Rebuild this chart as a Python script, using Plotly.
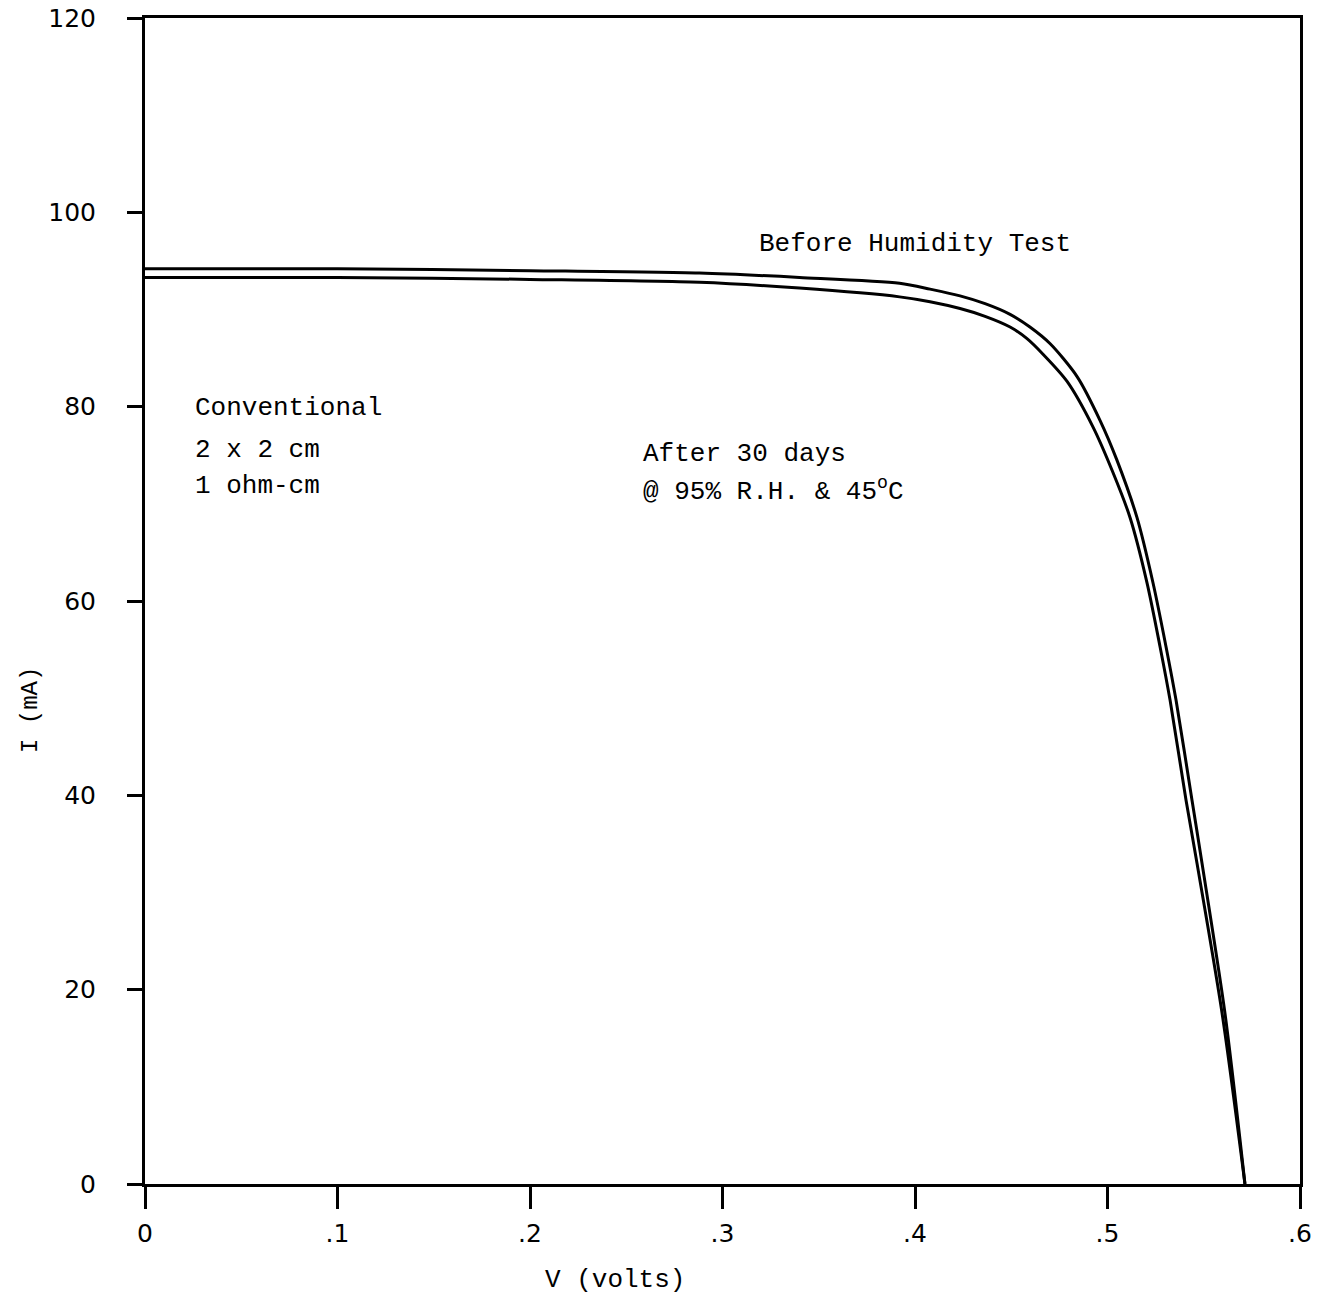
import plotly.graph_objects as go

# Data
v_before = [0, .10, .20, .288, .34, .392, .4078, .4234, .4364, .4494, .4597, .4701, .4842, .4961, .5049, .5153, .5236, .5304, .5356, .5439, .5491, .5610, .5714]
i_before = [94.2, 94.2, 94.0, 93.75, 93.3, 92.7, 92.1, 91.4, 90.6, 89.5, 88.2, 86.5, 83.1, 78.6, 74.5, 68.6, 61.9, 55.3, 49.8, 39.5, 33.0, 17.6, 0]

v_after = [0, .10, .20, .288, .34, .392, .4078, .4234, .4364, .4494, .4582, .4665, .4790, .4925, .5029, .5117, .5205, .5273, .5325, .5408, .5465, .5595, .5714]
i_after = [93.3, 93.3, 93.1, 92.8, 92.2, 91.3, 90.8, 90.1, 89.3, 88.2, 87.0, 85.4, 82.6, 77.9, 73.2, 68.6, 61.9, 55.3, 49.8, 39.5, 33.0, 17.6, 0]

x_ticks = [0, .1, .2, .3, .4, .5, .6]
x_tick_labels = ["0", ".1", ".2", ".3", ".4", ".5", ".6"]
y_ticks = [0, 20, 40, 60, 80, 100, 120]
y_tick_labels = ["0", "20", "40", "60", "80", "100", "120"]

mono = "Liberation Mono"
sans = "DejaVu Sans"

L, R, T, B = 145, 28, 18, 116
W, H = 1328, 1300
pw, ph = W - L - R, H - T - B

fig = go.Figure()
fig.add_trace(go.Scatter(x=v_before, y=i_before, mode="lines",
                         line=dict(color="black", width=3, shape="spline", smoothing=0.8),
                         showlegend=False, name="Before Humidity Test"))
fig.add_trace(go.Scatter(x=v_after, y=i_after, mode="lines",
                         line=dict(color="black", width=3, shape="spline", smoothing=0.8),
                         showlegend=False, name="After 30 days"))

annots = [
    dict(x=0.318, y=96.7, text="Before Humidity Test"),
    dict(x=0.025, y=79.9, text="Conventional"),
    dict(x=0.025, y=75.5, text="2 x 2 cm"),
    dict(x=0.025, y=71.8, text="1 ohm-cm"),
    dict(x=0.2577, y=75.1, text="After 30 days"),
    dict(x=0.2577, y=71.4, text="@ 95% R.H. & 45<sup>o</sup>C"),
]
for a in annots:
    fig.add_annotation(x=a["x"], y=a["y"], text=a["text"], xref="x", yref="y",
                       xanchor="left", yanchor="middle", showarrow=False,
                       font=dict(family=mono, size=26, color="black"))

fig.add_annotation(x=(615 - L) / pw, y=1 - (1280 - T) / ph, xref="paper", yref="paper",
                   xanchor="center", yanchor="middle",
                   text="V (volts)", showarrow=False,
                   font=dict(family=mono, size=26, color="black"))
fig.add_annotation(x=(30 - L) / pw, y=1 - (710 - T) / ph, xref="paper", yref="paper",
                   xanchor="center", yanchor="middle",
                   text="I (mA)", textangle=-90, showarrow=False,
                   font=dict(family=mono, size=24, color="black"))

fig.update_layout(
    width=W, height=H,
    margin=dict(l=L, r=R, t=T, b=B, autoexpand=False),
    paper_bgcolor="white", plot_bgcolor="white",
    xaxis=dict(range=[0, 0.6], tickvals=x_ticks, ticktext=x_tick_labels,
               showgrid=False, zeroline=False, showline=True, linecolor="black", linewidth=3,
               mirror=True, ticks="outside", ticklen=22, tickwidth=3, tickcolor="black",
               ticklabelstandoff=3,
               tickfont=dict(family=sans, size=25, color="black")),
    yaxis=dict(range=[0, 120], tickvals=y_ticks, ticktext=y_tick_labels,
               showgrid=False, zeroline=False, showline=True, linecolor="black", linewidth=3,
               mirror=True, ticks="outside", ticklen=15, tickwidth=3, tickcolor="black",
               ticklabelstandoff=26,
               tickfont=dict(family=sans, size=25, color="black")),
)

fig.write_html("out.html")
